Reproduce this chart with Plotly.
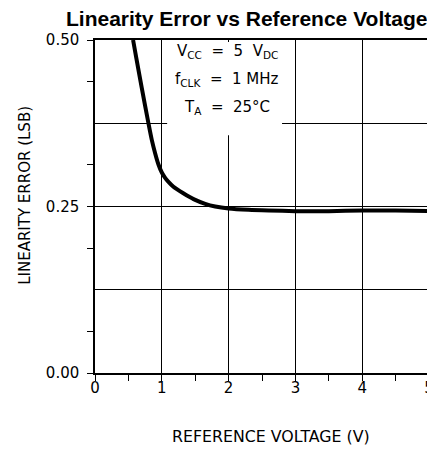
import plotly.graph_objects as go

# Data
ref_voltage = [0.57, 0.62, 0.70, 0.80, 0.85, 0.90, 0.95, 1.00, 1.05, 1.10, 1.17, 1.27, 1.37, 1.50, 1.65, 1.80, 2.00, 2.30, 2.60, 3.00, 3.50, 4.00, 4.50, 5.00]
lin_error   = [0.500, 0.472, 0.428, 0.375, 0.350, 0.330, 0.313, 0.301, 0.293, 0.287, 0.280, 0.273, 0.267, 0.260, 0.254, 0.250, 0.247, 0.245, 0.244, 0.243, 0.243, 0.244, 0.244, 0.243]

x_tick_pos = [0, 0.5, 1, 1.5, 2, 2.5, 3, 3.5, 4, 4.5, 5]
x_tick_text = ["0", "", "1", "", "2", "", "3", "", "4", "", "5"]
x_grid = [1, 2, 3, 4]
y_tick_pos = [0, 0.0625, 0.1875, 0.25, 0.3125, 0.4375, 0.5]
y_tick_text = ["0.00", "", "", "0.25", "", "", "0.50"]
y_grid = [0.125, 0.25, 0.375]

conditions = ["V<sub>CC</sub>  =  5  V<sub>DC</sub>",
              "f<sub>CLK</sub>  =  1 MHz",
              "T<sub>A</sub>  =  25°C"]
cond_y = [0.482, 0.441, 0.399]

title_text = "<b>Linearity Error vs Reference Voltage</b>"
x_title = "REFERENCE VOLTAGE (V)"
y_title = "LINEARITY ERROR (LSB)"

font_title = "Liberation Sans, Arial, sans-serif"
font_lbl = "DejaVu Sans, sans-serif"

fig = go.Figure()
fig.add_trace(go.Scatter(
    x=ref_voltage, y=lin_error, mode="lines",
    line=dict(color="black", width=4, shape="spline", smoothing=0.6),
    showlegend=False, hoverinfo="skip"))

# white box behind the condition text
fig.add_shape(type="rect", xref="x", yref="y", x0=1.08, x1=2.8, y0=0.357, y1=0.497,
              fillcolor="white", line=dict(width=0), layer="above")

for t, yy in zip(conditions, cond_y):
    fig.add_annotation(x=1.98, y=yy, xref="x", yref="y", text=t, showarrow=False,
                       font=dict(family=font_lbl, size=15, color="black"),
                       xanchor="center", yanchor="middle")

fig.add_annotation(text=title_text, xref="paper", yref="paper", x=0.455, y=1.066,
                   showarrow=False, xanchor="center", yanchor="middle",
                   font=dict(family=font_title, size=21, color="black"))
fig.add_annotation(text=x_title, xref="paper", yref="paper", x=0.527, y=-0.192,
                   showarrow=False, xanchor="center", yanchor="middle",
                   font=dict(family=font_lbl, size=15.8, color="black"))
fig.add_annotation(text=y_title, xref="paper", yref="paper", x=-0.2096, y=0.535,
                   showarrow=False, xanchor="center", yanchor="middle", textangle=-90,
                   font=dict(family=font_lbl, size=15, color="black"))

# page body has an 8px margin, so the figure is shrunk by that amount
fig.update_layout(
    width=427, height=442,
    margin=dict(l=87, r=6, t=32, b=77, autoexpand=False),
    paper_bgcolor="white", plot_bgcolor="white",
    font=dict(family=font_lbl, color="black"),
    xaxis=dict(
        range=[0, 5], tickvals=x_tick_pos, ticktext=x_tick_text,
        ticks="outside", ticklen=6, tickwidth=1, tickcolor="black",
        showgrid=False, showline=True, linecolor="black", linewidth=1.5, mirror=True,
        zeroline=False, tickfont=dict(size=15), automargin=False, ticklabelstandoff=-6,
        minor=dict(tickvals=x_grid, showgrid=True, gridcolor="black", gridwidth=1, ticks=""),
    ),
    yaxis=dict(
        range=[0, 0.5], tickvals=y_tick_pos, ticktext=y_tick_text,
        ticks="outside", ticklen=6, tickwidth=1, tickcolor="black",
        showgrid=False, showline=True, linecolor="black", linewidth=1.5, mirror=True,
        zeroline=False, tickfont=dict(size=15), automargin=False, ticklabelstandoff=5,
        minor=dict(tickvals=y_grid, showgrid=True, gridcolor="black", gridwidth=1, ticks=""),
    ),
)

fig.write_html("out.html")
